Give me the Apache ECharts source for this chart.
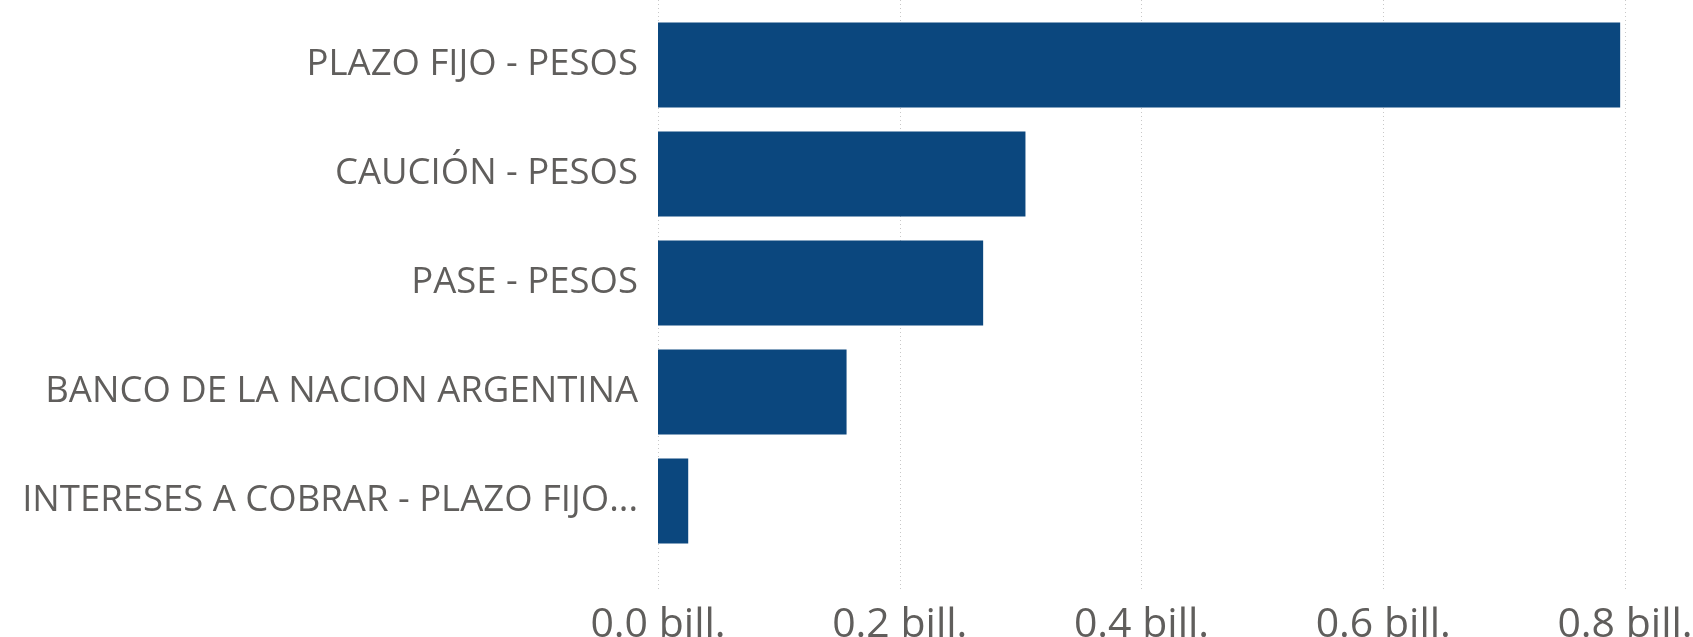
<!DOCTYPE html>
<html>
<head>
<meta charset="utf-8">
<script src="https://cdn.jsdelivr.net/npm/echarts@6/dist/echarts.min.js"></script>
<style>
html,body{margin:0;padding:0;background:#fff;}
#c{width:1693px;height:637px;}
</style>
</head>
<body>
<div id="c"></div>
<script>
const categories = [
  'PLAZO FIJO - PESOS',
  'CAUCIÓN - PESOS',
  'PASE - PESOS',
  'BANCO DE LA NACION ARGENTINA',
  'INTERESES A COBRAR - PLAZO FIJO...'
];
const values = [0.796, 0.304, 0.269, 0.156, 0.025]; // billions
const tickValues = [0, 0.2, 0.4, 0.6, 0.8];
const tickSuffix = ' bill.';

const font = '"Open Sans", "Noto Sans", sans-serif';
const textColor = '#605E5C';
const chart = echarts.init(document.getElementById('c'), null, {renderer: 'canvas'});
chart.setOption({
  animation: false,
  grid: [
    {left: 658, right: 68, top: 10.5, bottom: 81.5, outerBoundsMode: 'none', containLabel: false},
    {left: 658, right: 68, top: 0, bottom: 47, outerBoundsMode: 'none', containLabel: false}
  ],
  xAxis: [
    {gridIndex: 0, type: 'value', min: tickValues[0], max: tickValues[tickValues.length-1],
     show: false, splitLine: {show: false}},
    {gridIndex: 1, type: 'value', min: tickValues[0], max: tickValues[tickValues.length-1],
     interval: tickValues[1] - tickValues[0],
     axisLine: {show: false}, axisTick: {show: false},
     splitLine: {show: true, lineStyle: {color: '#C8C8C8', width: 1, type: [1, 3]}},
     axisLabel: {fontFamily: font, fontSize: 41, color: textColor, margin: 15,
       formatter: v => v.toFixed(1) + tickSuffix}}
  ],
  yAxis: [
    {gridIndex: 0, type: 'category', data: categories, inverse: true,
     axisLine: {show: false}, axisTick: {show: false}, splitLine: {show: false},
     axisLabel: {fontFamily: font, fontSize: 36.5, color: textColor, margin: 20,
       padding: [10, 0, 0, 0]}},
    {gridIndex: 1, type: 'value', show: false, splitLine: {show: false}}
  ],
  series: [{
    type: 'bar', xAxisIndex: 0, yAxisIndex: 0,
    data: values, barCategoryGap: '22%',
    itemStyle: {color: '#0B477E'}
  }]
});
</script>
</body>
</html>
